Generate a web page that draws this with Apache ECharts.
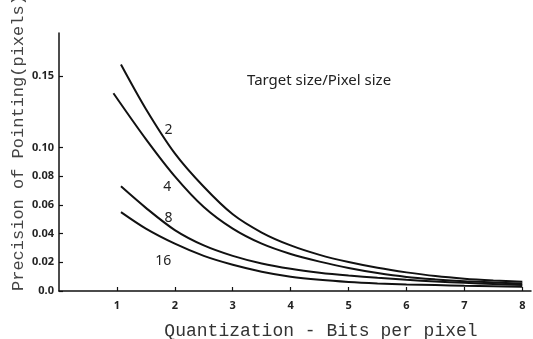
<!DOCTYPE html>
<html>
<head>
<meta charset="utf-8">
<script src="https://cdn.jsdelivr.net/npm/echarts@6/dist/echarts.min.js"></script>
<style>
html,body{margin:0;padding:0;background:#fff;}
#chart{width:533px;height:339px;}
</style>
</head>
<body>
<div id="chart"></div>
<script>
// Data
var xStd = [1.07, 1.5, 2, 2.5, 3, 3.5, 4, 4.5, 5, 5.5, 6, 6.5, 7, 7.5, 8];
var x4   = [0.94, 1.5, 2, 2.5, 3, 3.5, 4, 4.5, 5, 5.5, 6, 6.5, 7, 7.5, 8];
var y2  = [0.158, 0.127, 0.096, 0.0727, 0.0535, 0.0408, 0.0318, 0.0252, 0.0202, 0.0162, 0.0130, 0.0104, 0.0086, 0.0074, 0.0065];
var y4  = [0.138, 0.106, 0.080, 0.0586, 0.0435, 0.0330, 0.0258, 0.0205, 0.0160, 0.0125, 0.0098, 0.0081, 0.0068, 0.0060, 0.0052];
var y8  = [0.073, 0.058, 0.0425, 0.0318, 0.0245, 0.0192, 0.0155, 0.0128, 0.0108, 0.0092, 0.0078, 0.0066, 0.0057, 0.0049, 0.0042];
var y16 = [0.055, 0.0435, 0.0330, 0.0245, 0.0183, 0.0135, 0.0100, 0.0078, 0.0063, 0.0053, 0.0046, 0.0041, 0.0036, 0.0033, 0.0030];

var curveNames = ['2', '4', '8', '16'];
var labelX = [1.89, 1.87, 1.89, 1.80];
var labelY = [0.112, 0.0725, 0.051, 0.021];

var yTicks = [0, 0.02, 0.04, 0.06, 0.08, 0.10, 0.15];
var xTicks = [1, 2, 3, 4, 5, 6, 7, 8];

var xTitle = 'Quantization - Bits per pixel';
var yTitle = 'Precision of Pointing(pixels)';
var legendTitle = 'Target size/Pixel size';

function pairs(xs, ys) { return xs.map(function (x, i) { return [x, ys[i]]; }); }

var seriesX = [xStd, x4, xStd, xStd];
var seriesY = [y2, y4, y8, y16];

var series = seriesX.map(function (xs, i) {
  return {
    name: curveNames[i],
    type: 'line',
    smooth: 0.3,
    symbol: 'none',
    lineStyle: { color: '#111', width: 2 },
    data: pairs(xs, seriesY[i]),
    markPoint: {
      symbol: 'rect',
      symbolSize: 1,
      itemStyle: { color: 'rgba(0,0,0,0)' },
      label: {
        show: true, position: 'inside', formatter: curveNames[i],
        color: '#222', fontFamily: 'Noto Sans', fontSize: 14
      },
      data: [{ coord: [labelX[i], labelY[i]] }]
    }
  };
});

var chart = echarts.init(document.getElementById('chart'), null, { renderer: 'canvas' });
chart.setOption({
  backgroundColor: '#fff',
  animation: false,
  grid: { left: 59, right: 2, top: 33, bottom: 48 },
  xAxis: {
    type: 'value', min: 0, max: 8.15,
    axisLine: { lineStyle: { color: '#111', width: 1.5 } },
    axisTick: { show: true, inside: true, length: 4, customValues: xTicks, lineStyle: { color: '#111', width: 1.2 } },
    axisLabel: { customValues: xTicks, margin: 9, color: '#222', fontSize: 11, fontWeight: 'bold', fontFamily: 'Noto Sans' },
    splitLine: { show: false }
  },
  yAxis: {
    type: 'value', min: 0, max: 0.18,
    axisLine: { show: true, lineStyle: { color: '#111', width: 1.5 } },
    axisTick: { show: true, inside: true, length: 4, customValues: yTicks, lineStyle: { color: '#111', width: 1.2 } },
    axisLabel: {
      customValues: yTicks, margin: 5, color: '#222', fontSize: 11, fontWeight: 'bold', fontFamily: 'Noto Sans',
      formatter: function (v) { return v === 0 ? '0.0' : v.toFixed(2); }
    },
    splitLine: { show: false }
  },
  graphic: [
    {
      type: 'text', left: 247, top: 73,
      style: { text: legendTitle, fill: '#222', font: '15px "Noto Sans"' }
    },
    {
      type: 'text', x: 321, y: 331,
      style: { text: xTitle, fill: '#333', font: '18px "Liberation Mono"', textAlign: 'center', textVerticalAlign: 'middle' }
    },
    {
      type: 'text', x: 18, y: 291, rotation: Math.PI / 2,
      style: { text: yTitle, fill: '#444', font: '17px "Liberation Mono"', textAlign: 'left', textVerticalAlign: 'middle' }
    }
  ],
  series: series
});
</script>
</body>
</html>
